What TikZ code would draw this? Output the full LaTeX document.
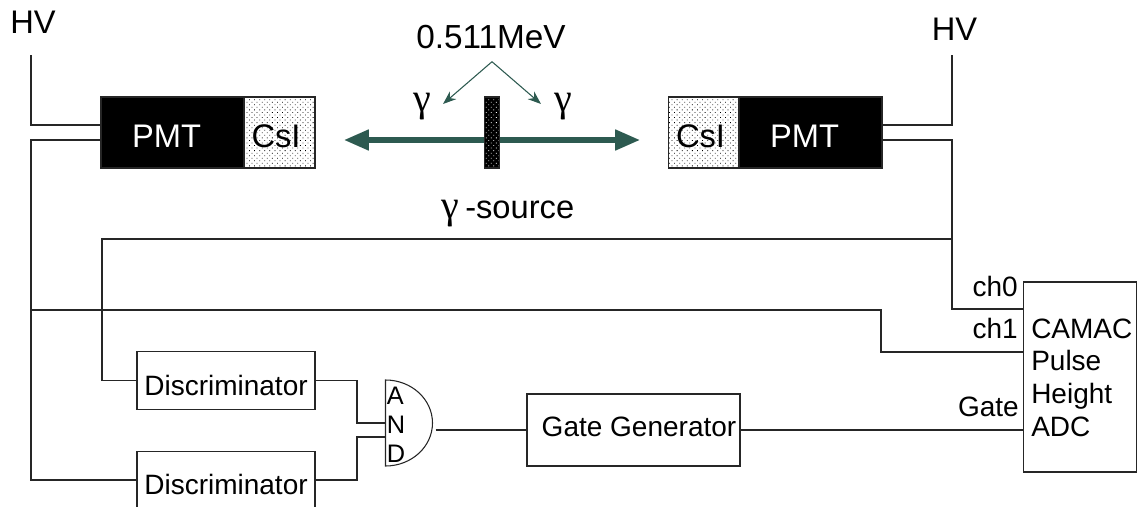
\documentclass[tikz,border=0pt]{standalone}
\usepackage{fontspec}
\setmainfont{Liberation Sans}
\newfontfamily\gammafont{Liberation Serif}
\usetikzlibrary{arrows.meta,patterns.meta}
\definecolor{beamgreen}{HTML}{2D5A50}
\tikzset{
  wire/.style={line width=0.8pt, black!85},
  blockbox/.style={draw=black!85, line width=0.8pt, inner sep=0pt, font=\fontsize{21}{24}\selectfont},
  pmtbox/.style={blockbox, fill=black, minimum width=107.25pt, minimum height=53.25pt},
  csibox/.style={blockbox, minimum width=53.25pt, minimum height=53.25pt, pattern={Dots[radius=0.42pt, distance=2.7pt, angle=45]}},
  discbox/.style={blockbox, minimum width=133.5pt, minimum height=43pt, text height=21.8pt, text depth=0pt},
  lbl/.style={inner sep=0pt, anchor=base, font=\fontsize{21}{24}\selectfont},
  biglbl/.style={lbl, font=\fontsize{24.5}{28}\selectfont},
  gammalbl/.style={lbl, font=\fontsize{30}{30}\selectfont\gammafont},
}
\begin{document}
\begin{tikzpicture}[x=0.75pt, y=-0.75pt]
\clip (0,0) rectangle (1140,507);

% === Detectors ===
\node[pmtbox] (PmtL) at (172.5,132.5) {};
\node[csibox] (CsiL) at (279.5,132.5) {};
\node[csibox] (CsiR) at (704,132.5) {};
\node[pmtbox] (PmtR) at (810.5,132.5) {};
\node[biglbl, text=white] (PmtLText) at (166.5,147) {PMT};
\node[biglbl] (CsiLText) at (276,147) {CsI};
\node[biglbl] (CsiRText) at (700.5,147) {CsI};
\node[biglbl, text=white] (PmtRText) at (804.5,147) {PMT};

% === Beam and source ===
\coordinate (BeamL) at (343.5,140);
\coordinate (BeamR) at (640.5,140);
\draw[beamgreen, line width=5pt, {Triangle[length=19pt, width=14.5pt]}-{Triangle[length=19pt, width=14.5pt]}] (BeamL) -- (BeamR);
\node[draw=black!85, line width=0.8pt, inner sep=0pt, minimum width=11pt, minimum height=53.25pt,
  preaction={fill=black}, pattern={Dots[radius=0.42pt, distance=2.7pt, angle=45]}, pattern color=white]
  (Source) at (492,132.5) {};

% === Labels ===
\node[biglbl] (HvL) at (33,33) {HV};
\node[biglbl] (HvR) at (954.5,40) {HV};
\node[biglbl, font=\fontsize{25}{28}\selectfont] (Energy) at (491,48) {0.511MeV};
\node[gammalbl] (GammaL) at (422.5,111) {γ};
\node[gammalbl] (GammaR) at (563,111) {γ};
\node[gammalbl, anchor=base west] (SrcGamma) at (441,218) {γ};
\node[biglbl, anchor=base west] (SrcLabel) at (465,218) {-source};

% === Gamma arrows ===
\coordinate (Apex) at (492,61.7);
\coordinate (GamTipL) at (443,104);
\coordinate (GamTipR) at (541,104);
\draw[beamgreen, line width=0.8pt, -{Stealth[length=10pt, width=7.5pt]}] (Apex) -- (GamTipL);
\draw[beamgreen, line width=0.8pt, -{Stealth[length=10pt, width=7.5pt]}] (Apex) -- (GamTipR);

% === Electronics ===
\node[discbox] (DiscA) at (226,380.5) {Discriminator};
\node[discbox] (DiscB) at (226,480) {Discriminator};
\node[blockbox, minimum width=159.75pt, minimum height=54pt] (GateGen) at (633.5,430) {};
\node[lbl] (GateText) at (639,436) {Gate Generator};
\node[draw=black!85, line width=0.8pt, inner sep=0pt, minimum width=84.75pt, minimum height=142.5pt] (Camac) at (1080,377) {};
\node[inner sep=0pt, anchor=base west, align=left, font=\fontsize{21}{24.5}\selectfont] (CamacText) at (1031,436) {CAMAC\\Pulse\\Height\\ADC};
\node[lbl, anchor=base east] (ChZero) at (1018,296) {ch0};
\node[lbl, anchor=base east] (ChOne) at (1018,338) {ch1};
\node[lbl, anchor=base east] (GateLbl) at (1019,416) {Gate};

% === AND gate ===
\draw[wire] (385.5,380) coordinate (AndTop) arc[start angle=-90, end angle=90, x radius=47, y radius=43] coordinate (AndBot) -- cycle;
\node[inner sep=0pt, anchor=base west, align=left, font=\fontsize{19}{21.75}\selectfont] (AndText) at (386.5,462) {A\\N\\D};

% === Wires ===
\coordinate (LowL) at (31,140);
\coordinate (LowR) at (952,140);
\coordinate (TapL) at (31,310);
\coordinate (TapR) at (952,239);
\coordinate (InA) at (385.5,423);
\coordinate (InB) at (385.5,437);
\coordinate (AndOut) at (435.5,430);
\coordinate (EndL) at (31,55);
\coordinate (EndR) at (952,55);
\coordinate (PortZero) at (1023.5,309);
\coordinate (PortOne) at (1023.5,352);
\coordinate (PortGate) at (1023.5,430);

\draw[wire] (EndL) |- (PmtL.west |- 0,125);
\draw[wire] (EndR) |- (PmtR.east |- 0,125);
\draw[wire] (PmtL.west |- LowL) -- (LowL) |- (DiscB.west);
\draw[wire] (PmtR.east |- LowR) -- (LowR) |- (PortZero);
\draw[wire] (TapL) -- (881,310) |- (PortOne);
\draw[wire] (TapR) -- (102,239) |- (DiscA.west);
\draw[wire] (DiscA.east) -- (357,380.5) |- (InA);
\draw[wire] (DiscB.east) -- (357,480) |- (InB);
\draw[wire] (AndOut) -- (GateGen.west);
\draw[wire] (GateGen.east) -- (PortGate);
\end{tikzpicture}
\end{document}
